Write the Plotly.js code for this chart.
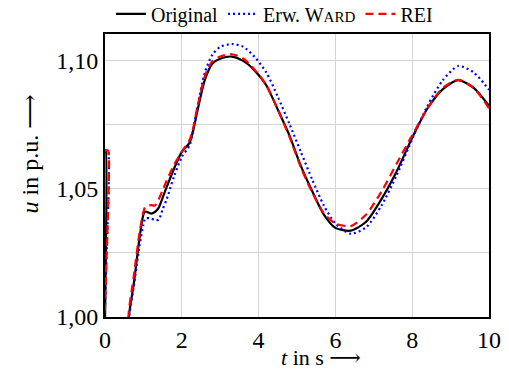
<!DOCTYPE html>
<html>
<head>
<meta charset="utf-8">
<script src="https://cdn.plot.ly/plotly-3.0.1.min.js"></script>
<style>html,body{margin:0;padding:0;background:#fff;}#chart{width:509px;height:374px;}</style>
</head>
<body>
<div id="chart"></div>
<script>
const t = [0, 0.02, 0.03, 0.08, 0.09, 0.5, 0.55, 0.62, 0.75, 0.9, 1.0, 1.05, 1.2, 1.3, 1.4, 1.5, 1.6, 1.8, 2.0, 2.2, 2.3, 2.4, 2.6, 2.8, 3.0, 3.3, 3.6, 3.9, 4.2, 4.5, 4.8, 5.1, 5.4, 5.7, 6.0, 6.4, 6.8, 7.2, 7.6, 8.0, 8.4, 8.8, 9.2, 9.6, 10];
const uOriginal = [1.065,1.065,0.95,0.95,0.95, 0.95,0.972,1.000,1.013,1.031, 1.040,1.0412,1.0404,1.041,1.0427, 1.0465,1.0505,1.058,1.0645,1.068, 1.073,1.080,1.0926,1.099,1.1008, 1.1017,1.1000,1.0962,1.0905,1.081, 1.071,1.059,1.049,1.040,1.0348, 1.0337,1.0372,1.046,1.057,1.070, 1.0815,1.089,1.0925,1.0895,1.0825];
const uWard = [1.065,1.065,1.065,1.065,0.95, 0.95,0.972,0.999,1.012,1.028, 1.036,1.0385,1.0385,1.0378,1.038, 1.042,1.0457,1.055,1.0625,1.067, 1.0735,1.0815,1.0955,1.1025,1.1055, 1.1066,1.1055,1.1015,1.0955,1.086, 1.0755,1.0645,1.0535,1.0435,1.0365, 1.0325,1.035,1.0435,1.0555,1.0695, 1.0825,1.0925,1.098,1.0955,1.0887];
const uRei = [1.065,1.065,1.065,1.065,0.95, 0.95,0.975,1.002,1.016,1.033, 1.041,1.043,1.0437,1.0435,1.046, 1.0495,1.053,1.0595,1.0645,1.069, 1.074,1.0815,1.094,1.1,1.1017, 1.1026,1.101,1.0965,1.0905,1.081, 1.0705,1.0585,1.0485,1.0405,1.0365, 1.0355,1.040,1.049,1.060,1.071, 1.0815,1.0895,1.0926,1.0895,1.0815];
const seriesNames = ['Original', 'Erw. W<span style="font-size:15px">ARD</span>', 'REI'];
const xTicks = [0, 2, 4, 6, 8, 10];
const yTicks = [1.00, 1.05, 1.10];
const yTickText = ['1,00', '1,05', '1,10'];

const FONT = 'Liberation Serif, DejaVu Serif, serif';
const traces = [
  {x: t, y: uOriginal, name: seriesNames[0], mode: 'lines', line: {color: '#000', width: 2.2, shape: 'spline', smoothing: 0.7}},
  {x: t, y: uWard, name: seriesNames[1], mode: 'lines', line: {color: '#0000ff', width: 2.2, dash: '2px,3px', shape: 'spline', smoothing: 0.7}},
  {x: t, y: uRei, name: seriesNames[2], mode: 'lines', line: {color: '#ff0000', width: 2.2, dash: '8px,5px', shape: 'spline', smoothing: 0.7}}
];
const layout = {
  width: 509, height: 374,
  margin: {l: 105, r: 20, t: 34, b: 57},
  paper_bgcolor: '#fff', plot_bgcolor: '#fff',
  font: {family: FONT, size: 22, color: '#000'},
  showlegend: true,
  legend: {orientation: 'h', xref: 'container', yref: 'container', x: 0.218, y: 0.963, xanchor: 'left', yanchor: 'middle',
           font: {family: FONT, size: 20, color: '#000'}, bgcolor: 'rgba(0,0,0,0)', itemwidth: 30, tracegroupgap: 0},
  xaxis: {range: [0, 10], tickvals: xTicks, ticktext: xTicks.map(String), showgrid: true, gridcolor: '#d4d4d4', gridwidth: 1,
          zeroline: false, showline: true, mirror: true, linecolor: '#000', linewidth: 2, ticks: '',
          tickfont: {family: FONT, size: 24}},
  yaxis: {range: [1.0, 1.1105], tickvals: yTicks, ticktext: yTickText, showgrid: true, gridcolor: '#d4d4d4', gridwidth: 1,
          minor: {dtick: 0.025, tick0: 1.0, showgrid: true, gridcolor: '#d4d4d4', gridwidth: 1, ticks: ''},
          zeroline: false, showline: true, mirror: true, linecolor: '#000', linewidth: 2, ticks: '',
          tickfont: {family: FONT, size: 24}},
  annotations: [
    {text: '<i>t</i> in s \u27F6', xref: 'paper', yref: 'paper', x: 0.5625, y: -0.195, showarrow: false,
     xanchor: 'center', yanchor: 'bottom', font: {family: FONT, size: 22, color: '#000'}},
    {text: '<i>u</i> in p.u. \u27F6', xref: 'paper', yref: 'paper', x: -0.195, y: 0.575, showarrow: false, textangle: -90,
     xanchor: 'center', yanchor: 'middle', font: {family: FONT, size: 24, color: '#000'}}
  ]
};
Plotly.newPlot('chart', traces, layout, {displayModeBar: false, staticPlot: true});
</script>
</body>
</html>
